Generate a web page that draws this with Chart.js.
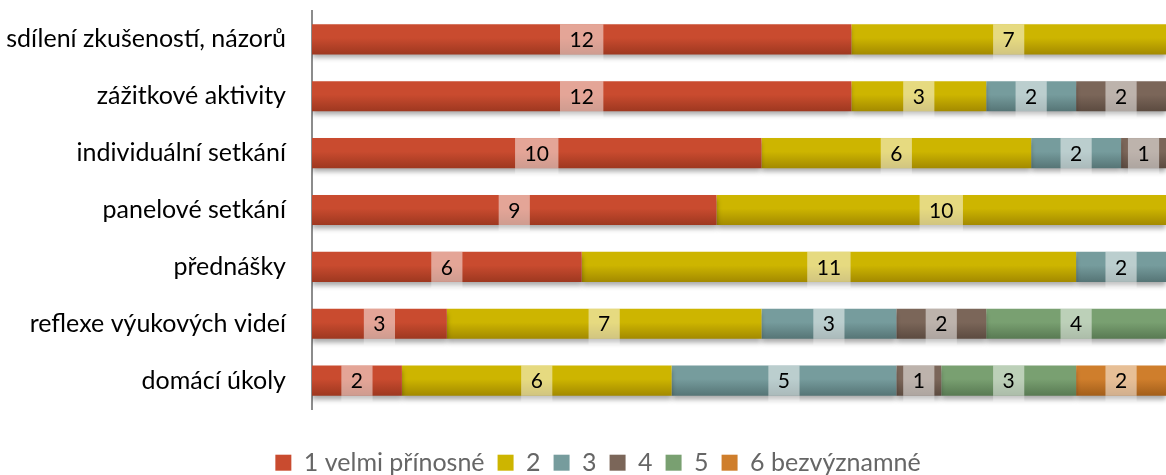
<!DOCTYPE html>
<html>
<head>
<meta charset="utf-8">
<script src="https://cdn.jsdelivr.net/npm/chart.js@4"></script>
<style>
  body { margin: 0; background: #fff; }
  #wrap { width: 1166px; height: 475px; }
</style>
</head>
<body>
<div id="wrap"><canvas id="graf" width="1166" height="475"></canvas></div>
<script>
// kategorie a hodnoty (počty odpovědí)
var kategorie = ["sdílení zkušeností, názorů", "zážitkové aktivity", "individuální setkání",
                 "panelové setkání", "přednášky", "reflexe výukových videí", "domácí úkoly"];
var hodnota1 = [12, 12, 10, 9, 6, 3, 2];
var hodnota2 = [7, 3, 6, 10, 11, 7, 6];
var hodnota3 = [0, 2, 2, 0, 2, 3, 5];
var hodnota4 = [0, 2, 1, 0, 0, 2, 1];
var hodnota5 = [0, 0, 0, 0, 0, 4, 3];
var hodnota6 = [0, 0, 0, 0, 0, 0, 2];
var nazvyRad = ["1 velmi přínosné", "2", "3", "4", "5", "6 bezvýznamné"];

var barvy = [
    ["#c94b2f", "#9e3820"],
    ["#cdb500", "#a38a00"],
    ["#769c9d", "#567576"],
    ["#7b6659", "#5c4b40"],
    ["#79a071", "#597a53"],
    ["#cf7e2c", "#a35f1b"]
];

var pismo = 'Lato, "Open Sans", sans-serif';

function prechod(i) {
    return function (ctx) {
        var chart = ctx.chart;
        var y = chart.scales && chart.scales.y;
        if (!y || ctx.dataIndex === undefined || !chart.chartArea) return barvy[i][0];
        var stred = y.getPixelForValue(ctx.dataIndex);
        var g = chart.ctx.createLinearGradient(0, stred - 15, 0, stred + 15);
        g.addColorStop(0, barvy[i][0]);
        g.addColorStop(0.45, barvy[i][0]);
        g.addColorStop(1, barvy[i][1]);
        return g;
    };
}

var stin = {
    id: 'stin',
    beforeDatasetsDraw: function (chart) {
        var c = chart.ctx;
        c.save();
        c.shadowColor = 'rgba(0,0,0,0.35)';
        c.shadowBlur = 5;
        c.shadowOffsetY = 4;
    },
    afterDatasetsDraw: function (chart) {
        chart.ctx.restore();
    }
};

var popisky = {
    id: 'popisky',
    afterDatasetsDraw: function (chart) {
        var c = chart.ctx;
        c.save();
        c.font = '21px ' + pismo;
        c.textAlign = 'center';
        c.textBaseline = 'middle';
        chart.data.datasets.forEach(function (ds, i) {
            var meta = chart.getDatasetMeta(i);
            meta.data.forEach(function (bar, j) {
                var v = ds.data[j];
                if (!v) return;
                var h = bar.height;
                var sx = (bar.x + bar.base) / 2;
                var w = c.measureText(String(v)).width + 19;
                c.fillStyle = 'rgba(255,255,255,0.5)';
                c.fillRect(sx - w / 2, bar.y - h / 2, w, h);
                c.fillStyle = 'rgba(255,255,255,0.3)';
                c.fillRect(sx - w / 2, bar.y + h / 2, w, 6);
                c.fillStyle = '#000';
                c.fillText(v, sx, bar.y + 1);
            });
        });
        c.restore();
    }
};

// legenda: pevná výška boxu a posun doprava
var vyskaLegendy = {
    id: 'vyskaLegendy',
    afterInit: function (chart) {
        var lg = chart.legend;
        var puvodni = lg.fit;
        lg.fit = function () {
            puvodni.call(this);
            this.height = 66;
        };
    },
    afterLayout: function (chart) {
        chart.legend.left = 30;
    }
};

var rady = [hodnota1, hodnota2, hodnota3, hodnota4, hodnota5, hodnota6];

new Chart(document.getElementById('graf'), {
    type: 'bar',
    data: {
        labels: kategorie,
        datasets: rady.map(function (d, i) {
            return {
                label: nazvyRad[i],
                data: d,
                backgroundColor: prechod(i),
                borderWidth: 0,
                categoryPercentage: 1,
                barPercentage: 0.53
            };
        })
    },
    options: {
        indexAxis: 'y',
        responsive: false,
        animation: false,
        layout: { padding: { top: 11, right: 0, bottom: 0, left: 0 } },
        scales: {
            x: {
                stacked: true,
                display: false,
                min: 0,
                max: 19
            },
            y: {
                stacked: true,
                grid: { display: false, drawTicks: false },
                border: { display: true, color: '#8c8c8c', width: 2 },
                ticks: {
                    color: '#000',
                    padding: 26,
                    font: { size: 25, family: pismo }
                },
                afterFit: function (axis) {
                    axis.width = 312;
                    axis.paddingTop = 0;
                    axis.paddingBottom = 0;
                }
            }
        },
        plugins: {
            legend: {
                position: 'bottom',
                title: { display: true, text: ' ', font: { size: 1 }, padding: { top: 0, bottom: 27 } },
                labels: {
                    boxWidth: 16,
                    boxHeight: 16,
                    padding: 13,
                    color: '#000',
                    font: { size: 25, family: pismo },
                    generateLabels: function (chart) {
                        return chart.data.datasets.map(function (ds, i) {
                            return {
                                text: ds.label,
                                fillStyle: barvy[i][0],
                                strokeStyle: barvy[i][0],
                                lineWidth: 0,
                                datasetIndex: i
                            };
                        });
                    }
                }
            },
            tooltip: { enabled: false }
        }
    },
    plugins: [stin, popisky, vyskaLegendy]
});
</script>
</body>
</html>
